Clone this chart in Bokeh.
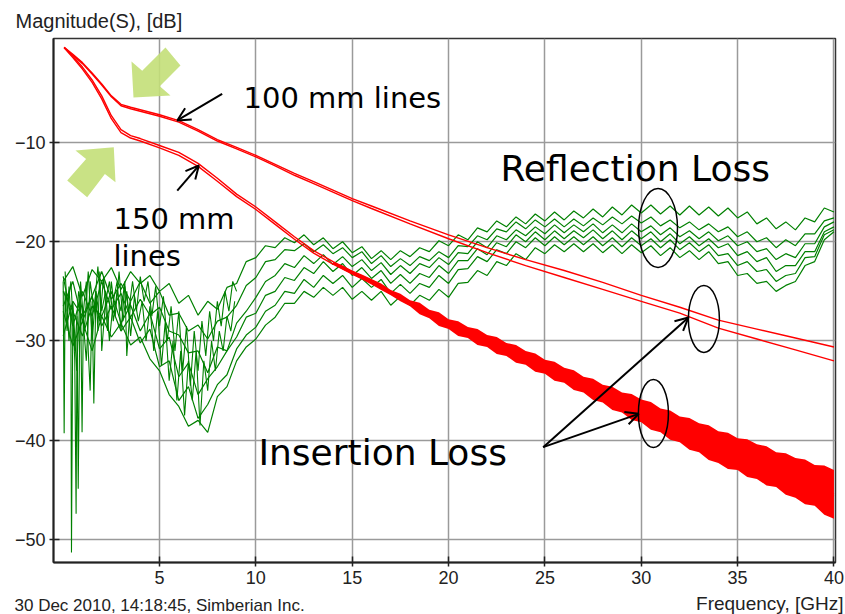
from bokeh.plotting import figure
from bokeh.layouts import column
from bokeh.models import Label, Arrow, OpenHead, FixedTicker, Range1d
from bokeh.core.properties import value
from bokeh.embed import file_html
from bokeh.resources import INLINE

X_TICKS = [5, 10, 15, 20, 25, 30, 35, 40]
Y_TICKS = [-10, -20, -30, -40, -50]

# ---- Insertion loss (red) ----
F_IL = [0.05, 0.5, 1, 1.5, 2, 2.5, 3, 3.5, 4, 5, 6, 7, 8, 9, 10, 11, 12, 13, 14, 15, 16,
        18, 20, 22, 24, 26, 28, 30, 32, 34, 36, 38, 40]
IL_100_A = [-0.4, -1.1, -1.95, -3.0, -4.1, -5.3, -6.15, -6.45, -6.7, -7.2, -7.8, -8.7, -9.7,
            -10.5, -11.3, -12.2, -13.1, -13.95, -14.8, -15.65, -16.4, -17.9, -19.3, -20.6,
            -21.8, -22.9, -24.1, -25.4, -26.6, -27.9, -28.8, -29.7, -30.6]
IL_100_B = [-0.45, -1.2, -2.05, -3.1, -4.2, -5.4, -6.3, -6.6, -6.85, -7.35, -7.95, -8.85, -9.85,
            -10.65, -11.45, -12.35, -13.3, -14.15, -15.0, -15.85, -16.65, -18.2, -19.7, -21.1,
            -22.4, -23.6, -24.8, -26.0, -27.2, -28.7, -29.8, -30.9, -32.0]
IL_150_A = [-0.4, -1.3, -2.4, -3.7, -5.3, -7.3, -8.7, -9.3, -9.6, -10.3, -11.0, -12.1, -13.6,
            -15.2, -16.5, -18.0, -19.5, -20.9, -22.0, -23.0, -23.9, -26.1, -28.2, -29.9,
            -31.6, -33.4, -35.2, -37.0, -38.8, -40.6, -42.1, -43.7, -45.4]
IL_150_B = [-0.45, -1.45, -2.6, -3.95, -5.6, -7.6, -9.0, -9.55, -9.85, -10.55, -11.3, -12.4,
            -13.9, -15.45, -16.75, -18.25, -19.75, -21.15, -22.25, -23.25, -24.15, -26.35,
            -28.45, -30.15, -31.85, -33.65, -35.45, -37.25, -39.05, -40.85, -42.35, -43.95, -45.65]

# noise band of the 150 mm insertion loss (upper / lower envelope, every 0.5 GHz)
F_BAND = [14.0, 14.5, 15.0, 15.5, 16.0, 16.5, 17.0, 17.5, 18.0, 18.5, 19.0, 19.5, 20.0, 20.5,
          21.0, 21.5, 22.0, 22.5, 23.0, 23.5, 24.0, 24.5, 25.0, 25.5, 26.0, 26.5, 27.0, 27.5,
          28.0, 28.5, 29.0, 29.5, 30.0, 30.5, 31.0, 31.5, 32.0, 32.5, 33.0, 33.5, 34.0, 34.5,
          35.0, 35.5, 36.0, 36.5, 37.0, 37.5, 38.0, 38.5, 39.0, 39.5, 40.0]
BAND_HI = [-22.05, -22.4, -22.9, -23.3, -23.75, -24.2, -24.85, -25.25, -25.9, -26.15, -26.85,
           -27.1, -27.8, -28.0, -28.6, -28.8, -29.4, -29.6, -30.2, -30.4, -31.0, -31.25, -31.9,
           -32.1, -32.7, -32.95, -33.6, -33.8, -34.4, -34.6, -35.2, -35.35, -35.9, -36.15,
           -36.8, -37.0, -37.6, -37.75, -38.3, -38.5, -39.1, -39.25, -39.8, -39.9, -40.4, -40.6,
           -41.2, -41.3, -41.8, -41.95, -42.5, -42.55, -43.0]
BAND_LO = [-22.25, -22.8, -23.3, -23.8, -24.3, -24.85, -25.4, -26.0, -26.5, -27.3, -27.7,
           -28.5, -28.8, -29.5, -29.7, -30.4, -30.6, -31.3, -31.5, -32.2, -32.4, -33.1, -33.3,
           -34.0, -34.2, -34.95, -35.2, -35.95, -36.2, -36.95, -37.2, -37.95, -38.2, -38.95,
           -39.2, -39.95, -40.2, -40.95, -41.2, -42.0, -42.3, -42.9, -43.0, -43.7, -43.9,
           -44.55, -44.7, -45.5, -45.8, -46.45, -46.6, -47.5, -47.9]

# ---- Reflection loss (green), sampled every 0.5 GHz from 0 to 40 GHz ----
F_RL = [i * 0.5 for i in range(81)]
RL_1 = [-24.0, -22.5, -25.5, -22.8, -24.0, -22.6, -24.8, -23.0, -24.2, -23.4,
        -25.0, -24.2, -26.2, -25.4, -27.4, -26.0, -26.8, -24.6, -24.2, -22.0,
        -21.6, -20.4, -20.6, -19.6, -20.1, -19.3, -20.3, -19.6, -20.7, -20.0,
        -21.1, -20.5, -21.7, -20.9, -21.8, -20.9, -21.5, -20.6, -21.0, -19.9,
        -20.4, -19.3, -19.8, -18.6, -19.0, -17.9, -18.5, -17.5, -18.2, -17.2,
        -17.9, -17.0, -17.8, -16.9, -17.6, -16.7, -17.5, -16.5, -17.3, -16.3,
        -17.1, -16.3, -17.2, -16.4, -17.3, -16.4, -17.3, -16.5, -17.4, -16.6,
        -17.6, -17.0, -18.2, -17.6, -18.7, -18.0, -18.8, -17.6, -18.0, -16.6,
        -17.0]
RL_2 = [-26.5, -24.0, -28.0, -25.5, -23.0, -25.8, -24.2, -26.0, -24.0, -26.2,
        -25.0, -27.4, -27.2, -29.0, -28.4, -29.8, -28.0, -27.6, -26.4, -24.4,
        -23.6, -22.0, -21.8, -20.8, -20.9, -20.2, -21.0, -20.3, -21.2, -20.6,
        -21.6, -21.0, -22.2, -21.4, -22.5, -21.7, -22.4, -21.5, -21.9, -21.0,
        -21.6, -20.4, -20.5, -19.4, -19.8, -18.7, -19.0, -18.0, -18.7, -17.8,
        -18.5, -17.7, -18.5, -17.7, -18.4, -17.6, -18.3, -17.5, -18.2, -17.4,
        -18.1, -17.5, -18.4, -17.8, -18.6, -18.0, -18.8, -18.2, -19.0, -18.5,
        -19.5, -19.0, -20.0, -19.6, -20.6, -19.8, -20.4, -19.2, -19.2, -17.9,
        -17.6]
RL_3 = [-23.5, -28.5, -25.0, -27.5, -24.0, -26.8, -25.2, -27.6, -25.8, -27.4,
        -26.6, -29.0, -29.4, -31.2, -31.0, -33.2, -30.6, -31.0, -28.2, -27.0,
        -25.6, -24.0, -23.4, -22.2, -22.6, -21.4, -22.2, -21.3, -22.3, -21.5,
        -22.5, -21.8, -22.9, -22.1, -23.3, -22.4, -23.2, -22.2, -22.6, -21.6,
        -22.3, -21.1, -21.2, -20.0, -20.6, -19.4, -19.8, -18.8, -19.4, -18.5,
        -19.2, -18.3, -19.1, -18.3, -19.0, -18.2, -19.1, -18.3, -19.1, -18.2,
        -19.0, -18.4, -19.3, -18.6, -19.5, -18.9, -19.7, -19.0, -19.9, -19.4,
        -20.4, -20.0, -21.0, -20.7, -21.8, -21.2, -21.6, -20.2, -20.2, -18.5,
        -18.0]
RL_4 = [-25.0, -27.0, -29.5, -26.5, -27.5, -25.0, -28.2, -26.4, -29.0, -27.2,
        -30.8, -29.6, -33.6, -32.2, -35.4, -33.8, -32.6, -31.0, -29.6, -27.6,
        -27.2, -25.4, -25.0, -23.6, -23.9, -22.6, -23.2, -22.0, -23.0, -22.2,
        -23.4, -22.6, -23.7, -22.9, -24.2, -23.3, -24.2, -23.2, -23.6, -22.4,
        -23.2, -21.9, -21.9, -20.7, -21.3, -20.1, -20.5, -19.3, -20.0, -19.0,
        -19.8, -18.9, -19.7, -18.9, -19.6, -18.8, -19.7, -18.9, -19.8, -18.9,
        -19.7, -19.0, -20.0, -19.2, -20.2, -19.5, -20.4, -19.7, -20.6, -20.2,
        -21.4, -21.0, -22.0, -21.6, -23.0, -22.4, -22.4, -21.0, -21.0, -19.0,
        -18.5]
RL_5 = [-29.5, -26.0, -27.5, -25.5, -28.5, -26.5, -29.0, -27.6, -30.2, -28.8,
        -32.6, -32.0, -36.0, -34.6, -37.8, -36.4, -34.4, -33.4, -30.8, -29.4,
        -28.6, -27.0, -26.4, -25.0, -25.2, -23.8, -24.6, -23.4, -24.2, -23.4,
        -24.6, -23.7, -24.6, -23.8, -25.2, -24.3, -25.2, -24.2, -24.6, -23.4,
        -24.2, -22.8, -22.7, -21.5, -22.0, -20.8, -21.2, -20.0, -20.6, -19.6,
        -20.4, -19.5, -20.3, -19.5, -20.3, -19.5, -20.4, -19.6, -20.5, -19.6,
        -20.4, -19.7, -20.6, -19.8, -20.8, -20.1, -21.0, -20.3, -21.4, -21.2,
        -22.4, -22.0, -23.0, -22.8, -24.0, -23.4, -23.2, -21.6, -21.5, -19.3,
        -18.8]
RL_6 = [-27.0, -30.5, -28.0, -31.0, -27.5, -29.6, -28.2, -30.4, -29.6, -31.8,
        -33.0, -35.4, -36.6, -38.6, -38.0, -39.2, -35.6, -34.6, -32.0, -30.6,
        -29.8, -28.4, -27.6, -26.2, -26.2, -25.0, -25.6, -24.6, -25.4, -24.6,
        -25.8, -25.0, -25.9, -25.0, -26.4, -25.5, -26.4, -25.4, -25.9, -24.8,
        -25.6, -24.2, -24.1, -22.9, -23.4, -22.0, -22.4, -21.2, -21.8, -20.6,
        -21.2, -20.3, -21.0, -20.2, -21.0, -20.2, -21.1, -20.3, -21.2, -20.3,
        -21.1, -20.4, -21.4, -20.6, -21.6, -20.9, -21.8, -21.0, -22.2, -22.0,
        -23.4, -23.2, -24.2, -24.0, -25.0, -24.4, -24.0, -22.4, -22.0, -19.8,
        -19.0]
# low-frequency spikes of the reflection traces
F_RL_LF = [0.0, 0.05, 0.1, 0.2, 0.3, 0.4, 0.43, 0.5, 0.6, 0.67, 0.72, 0.78, 0.85, 0.9, 0.98,
           1.05, 1.2, 1.3, 1.4, 1.5, 1.59, 1.7, 1.8, 1.9, 2.0, 2.2, 2.4, 2.6, 2.8, 3.0,
           3.2, 3.3, 3.5]
RL_LF = [-24.0, -39.3, -25.0, -29.0, -24.5, -28.0, -51.3, -27.0, -32.0, -47.4, -27.5, -44.9,
         -30.0, -25.0, -39.2, -27.0, -24.0, -31.0, -35.0, -26.0, -36.3, -25.0, -29.0, -23.0,
         -31.0, -26.0, -24.0, -28.0, -25.0, -27.0, -24.0, -31.5, -26.0]
# extra dense tangle of the reflection traces below 9 GHz
F_TANGLE_A = [0.1, 0.3, 0.5, 0.7, 0.9, 1.1, 1.3, 1.5, 1.7, 1.9, 2.1, 2.3, 2.5, 2.7, 2.9,
              3.1, 3.3, 3.5, 3.7, 3.9, 4.1, 4.3, 4.5, 4.7, 4.9, 5.1, 5.3, 5.5, 5.7, 5.9,
              6.1, 6.3, 6.5, 6.7, 6.9, 7.1, 7.3, 7.5, 7.7, 7.9, 8.1, 8.3, 8.5, 8.7, 8.9]
TANGLE_A = [-23.0, -30.0, -26.0, -33.0, -24.0, -29.0, -23.0, -30.0, -25.0, -28.0, -23.5,
            -29.0, -24.0, -27.5, -23.0, -28.0, -25.0, -29.5, -25.5, -28.0, -26.0, -30.0,
            -26.5, -31.0, -27.0, -32.5, -28.0, -34.0, -30.0, -36.0, -31.0, -37.5, -32.0,
            -36.0, -31.0, -38.5, -32.0, -35.0, -30.0, -33.0, -29.0, -31.0, -27.5, -29.0, -26.0]
F_TANGLE_B = [0.2, 0.4, 0.6, 0.8, 1.0, 1.2, 1.4, 1.6, 1.8, 2.0, 2.2, 2.4, 2.6, 2.8, 3.0,
              3.2, 3.4, 3.6, 3.8, 4.0, 4.2, 4.4, 4.6, 4.8, 5.0, 5.2, 5.4, 5.6, 5.8, 6.0,
              6.2, 6.4, 6.6, 6.8, 7.0, 7.2, 7.4, 7.6, 7.8, 8.0, 8.2, 8.4, 8.6, 8.8, 9.0]
TANGLE_B = [-27.0, -24.0, -31.0, -25.0, -27.0, -32.0, -24.0, -27.0, -22.5, -27.0, -25.0,
            -30.0, -26.0, -24.0, -29.0, -24.5, -27.0, -24.0, -27.0, -23.5, -26.0, -24.0,
            -27.5, -24.5, -28.5, -25.5, -30.0, -26.5, -31.0, -27.0, -33.0, -28.5, -34.5,
            -29.0, -33.0, -28.0, -31.5, -27.0, -30.0, -26.0, -28.5, -25.0, -27.0, -24.0, -25.0]

RED = "#ff0000"
GREEN = "#008000"
TXT_FONT = "Liberation Sans"
ANN_FONT = "DejaVu Sans"
W = 845


def strip(h, texts):
    """A thin text-only band above / below the chart (texts: (x_px, y_px, text, align, size))."""
    s = figure(width=W, height=h, output_backend="svg", toolbar_location=None,
               x_range=Range1d(0, W), y_range=Range1d(h, 0), min_border=0,
               x_axis_type=None, y_axis_type=None)
    if "frame_align" in s.properties():
        s.frame_align = False
    s.outline_line_color = None
    s.background_fill_color = "white"
    s.border_fill_color = "white"
    s.grid.visible = False
    for x, y, t, a, size in texts:
        s.text(x=[x], y=[y], text=[t], text_font=value(TXT_FONT), text_font_size=value(size),
               text_baseline="middle", text_align=a, text_color="#222222")
    return s


top = strip(36, [(15, 20, "Magnitude(S), [dB]", "left", "20px")])
bottom = strip(20, [(14, 11, "30 Dec 2010, 14:18:45, Simberian Inc.", "left", "17px"),
                    (843, 9, "Frequency, [GHz]", "right", "19px")])

p = figure(width=W, height=558, output_backend="svg", toolbar_location=None,
           x_range=Range1d(-0.503, 40.08), y_range=Range1d(-52.32, 0.48),
           min_border_left=53, min_border_right=10, min_border_top=2, min_border_bottom=32)
if "frame_align" in p.properties():
    p.frame_align = False
p.background_fill_color = "white"
p.border_fill_color = "white"
p.outline_line_color = "#333333"
p.outline_line_width = 1.5

for ax, ticks in ((p.xaxis[0], X_TICKS), (p.yaxis[0], Y_TICKS)):
    ax.ticker = FixedTicker(ticks=ticks)
    ax.minor_tick_line_color = None
    ax.axis_line_color = "#222222"
    ax.axis_line_width = 2
    ax.major_tick_line_color = "#222222"
    ax.major_tick_line_width = 1.5
    ax.major_tick_in = 6
    ax.major_tick_out = 4
    ax.major_label_text_font = TXT_FONT
    ax.major_label_text_font_size = "18px"
    ax.major_label_text_color = "#222222"
    ax.major_label_standoff = 4

for g in (p.xgrid[0], p.ygrid[0]):
    g.grid_line_color = "#9a9a9a"
    g.grid_line_width = 1.5

# green block arrows
p.patch([3.648, 3.544, 4.100, 5.309, 6.087, 5.013, 5.568],
        [-5.466, -1.839, -2.776, -0.428, -2.242, -4.327, -5.264],
        fill_color="#c3df78", fill_alpha=0.9, line_color=None)
p.patch([2.626, 0.638, 1.188, 0.208, 1.245, 2.164, 2.714],
        [-10.474, -10.806, -11.662, -13.829, -15.511, -13.174, -14.0],
        fill_color="#c3df78", fill_alpha=0.9, line_color=None)

# reflection loss
p.line(F_RL_LF, RL_LF, line_color=GREEN, line_width=1.1)
p.line(F_TANGLE_A, TANGLE_A, line_color=GREEN, line_width=1.1)
p.line(F_TANGLE_B, TANGLE_B, line_color=GREEN, line_width=1.1)
for rl in (RL_6, RL_5, RL_4, RL_3, RL_2, RL_1):
    p.line(F_RL, rl, line_color=GREEN, line_width=1.2)

# insertion loss
p.varea(x=F_BAND, y1=BAND_LO, y2=BAND_HI, fill_color=RED)
for il in (IL_100_A, IL_100_B, IL_150_A, IL_150_B):
    p.line(F_IL, il, line_color=RED, line_width=1.4)

# ellipses
p.ellipse(x=[30.87, 33.25, 30.63], y=[-18.61, -27.78, -37.3],
          width=[2.02, 1.61, 1.56], height=[7.96, 6.75, 6.85],
          fill_color=None, line_color="black", line_width=1.5)


def arrow(x0, y0, x1, y1):
    p.add_layout(Arrow(end=OpenHead(size=13, line_width=2, line_color="black"),
                       x_start=x0, y_start=y0, x_end=x1, y_end=y1,
                       line_width=2, line_color="black"))


arrow(8.25, -5.09, 5.92, -7.78)
arrow(5.92, -14.84, 7.04, -12.32)
arrow(24.91, -40.70, 32.45, -27.63)
arrow(24.91, -40.70, 29.87, -37.34)


def label(x, y, text, size):
    p.add_layout(Label(x=x, y=y, text=text, text_font=ANN_FONT, text_font_size=size,
                       text_baseline="middle", text_align="left", text_color="black"))


label(9.357, -5.466, "100 mm lines", "29px")
label(2.61, -17.66, "150 mm", "29px")
label(2.61, -21.39, "lines", "29px")
label(22.69, -12.62, "Reflection Loss", "36px")
label(10.13, -41.23, "Insertion Loss", "36px")

layout = column(top, p, bottom, spacing=0)
open("out.html", "w").write(file_html(layout, INLINE))
